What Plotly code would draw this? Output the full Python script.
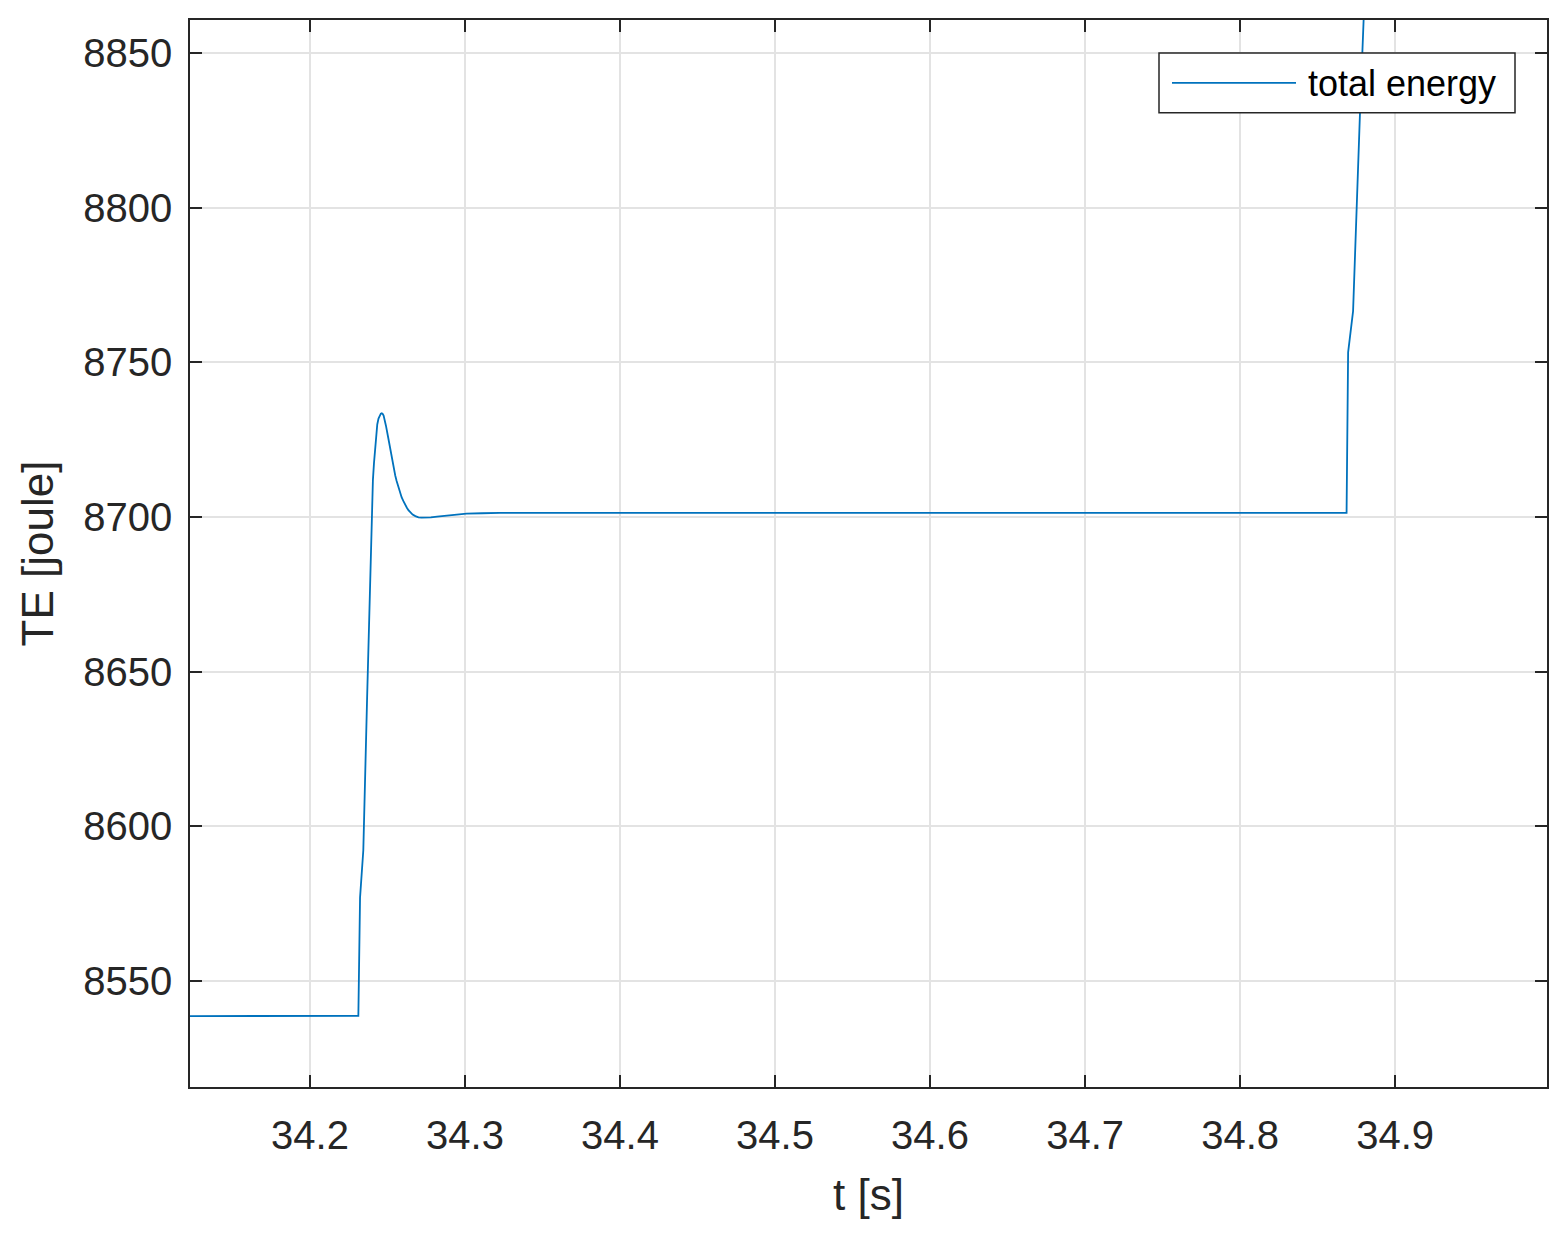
import plotly.graph_objects as go

# --- data (t in s, TE in joule) ---
t_vals = [34.1226, 34.2000, 34.2312, 34.2323, 34.2344, 34.2368, 34.2390, 34.2398,
          34.2406, 34.2413, 34.2420, 34.2427, 34.2434, 34.2442, 34.2450, 34.2457,
          34.2463, 34.2469, 34.2475, 34.2482, 34.2490, 34.2503, 34.2516, 34.2528,
          34.2540, 34.2550, 34.2559, 34.2570, 34.2580, 34.2591, 34.2602, 34.2613,
          34.2625, 34.2635, 34.2645, 34.2662, 34.2680, 34.2700, 34.2720, 34.2750,
          34.2780, 34.2820, 34.2860, 34.2930, 34.3010, 34.3110, 34.3226, 34.8687,
          34.8697, 34.8729, 34.8750, 34.8773, 34.8797, 34.8830]
te_vals = [8538.7, 8538.7, 8538.8, 8577.0, 8592.3, 8640.6, 8679.4, 8700.9,
           8712.0, 8717.5, 8722.0, 8726.5, 8729.9, 8731.8, 8733.0, 8733.4,
           8733.5, 8733.3, 8732.8, 8731.4, 8729.5, 8726.1, 8722.4, 8718.8,
           8715.5, 8713.4, 8711.6, 8709.5, 8707.8, 8706.4, 8705.2, 8704.0,
           8703.0, 8702.2, 8701.6, 8700.8, 8700.3, 8699.9, 8699.8, 8699.8,
           8699.9, 8700.1, 8700.3, 8700.7, 8701.1, 8701.2, 8701.3, 8701.3,
           8753.2, 8766.5, 8799.8, 8829.8, 8860.6, 8900.0]

x_ticks = [34.2, 34.3, 34.4, 34.5, 34.6, 34.7, 34.8, 34.9]
y_ticks = [8550, 8600, 8650, 8700, 8750, 8800, 8850]
legend_label = "total energy"

LINE = "#0072BD"
AX = "#262626"
FONT = "Liberation Sans, Arial, sans-serif"

fig = go.Figure()
fig.add_trace(go.Scatter(x=t_vals, y=te_vals, mode="lines", name=legend_label,
                         line=dict(color=LINE, width=1.8), showlegend=False))

axis_common = dict(
    showline=True, linecolor=AX, linewidth=1.5, mirror="allticks",
    ticks="inside", ticklen=12, tickwidth=1.5, tickcolor=AX,
    showgrid=True, gridcolor="#e3e3e3", gridwidth=1.5, zeroline=False,
    tickfont=dict(family=FONT, size=40, color=AX),
)

fig.update_xaxes(range=[34.1226, 34.998], tickvals=x_ticks,
                 ticktext=[f"{v:.1f}" for v in x_ticks], ticklabelstandoff=12,
                 title=dict(text="t [s]", standoff=23,
                            font=dict(family=FONT, size=44, color=AX)),
                 **axis_common)
fig.update_yaxes(range=[8515.8, 8860.6], tickvals=y_ticks,
                 ticktext=[str(v) for v in y_ticks], ticklabelstandoff=8,
                 title=dict(text="TE [joule]", standoff=16,
                            font=dict(family=FONT, size=44, color=AX)),
                 **axis_common)

# legend box drawn by hand so the line sample is as long as in the original
fig.add_shape(type="rect", xref="paper", yref="paper",
              x0=(1159 - 190) / 1357, x1=(1515 - 190) / 1357,
              y0=1 - (111 - 18) / 1069, y1=1 - (51 - 18) / 1069,
              line=dict(color=AX, width=1.5), fillcolor="white", layer="above")
fig.add_shape(type="line", xref="paper", yref="paper",
              x0=(1172 - 190) / 1357, x1=(1296 - 190) / 1357,
              y0=1 - (81 - 18) / 1069, y1=1 - (81 - 18) / 1069,
              line=dict(color=LINE, width=1.8), layer="above")
fig.add_annotation(xref="paper", yref="paper", x=(1306 - 190) / 1357,
                   y=1 - (82 - 18) / 1069, xanchor="left", yanchor="middle",
                   text=legend_label, showarrow=False,
                   font=dict(family=FONT, size=36, color="black"))

# the page adds an 8px body margin, so the figure is sized to compensate
fig.update_layout(
    width=1556, height=1234, autosize=False,
    margin=dict(l=182, r=17, t=10, b=155),
    plot_bgcolor="white", paper_bgcolor="white",
)

fig.write_html("out.html")
